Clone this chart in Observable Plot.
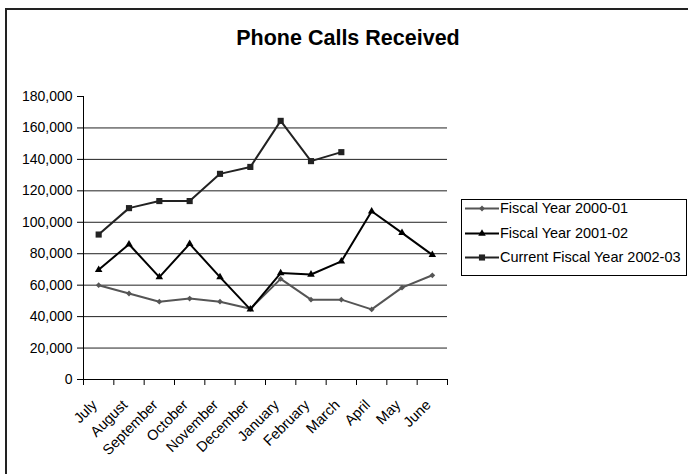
<!DOCTYPE html>
<html>
<head>
<meta charset="utf-8">
<script src="https://cdn.jsdelivr.net/npm/d3@7"></script>
<script src="https://cdn.jsdelivr.net/npm/@observablehq/plot@0.6"></script>
<style>
  html, body { margin: 0; padding: 0; background: #fff; overflow: hidden; }
  body { width: 688px; height: 474px; position: relative; font-family: Arial, "Liberation Sans", sans-serif; }
  #frame { position: absolute; left: 5px; top: 8px; width: 700px; height: 500px; border-left: 2px solid #222; border-top: 2px solid #222; }
  #title { position: absolute; left: 0; width: 696px; top: 26px; text-align: center; font-weight: bold; font-size: 21.5px; color: #000; }
  #chart { position: absolute; left: 0; top: 0; }
  #legend { position: absolute; left: 461px; top: 199px; width: 226px; height: 77px; border: 1px solid #000; background: #fff; box-sizing: border-box; }
  .item { position: absolute; left: 3px; height: 20px; display: flex; align-items: center; font-size: 14.5px; white-space: nowrap; }
  .item svg { margin-right: 1px; }
</style>
</head>
<body>
<div id="frame"></div>
<div id="chart"></div>
<div id="title">Phone Calls Received</div>
<div id="legend"></div>
<script>
const months = ["July","August","September","October","November","December","January","February","March","April","May","June"];
const seriesNames = ["Fiscal Year 2000-01","Fiscal Year 2001-02","Current Fiscal Year 2002-03"];
const fy2000_01 = [60000, 54700, 49500, 51500, 49500, 45000, 64000, 50800, 50800, 44600, 58400, 66300];
const fy2001_02 = [69800, 86000, 65100, 86300, 65100, 44600, 67700, 66800, 75100, 107000, 93300, 79300];
const fy2002_03 = [92200, 109000, 113500, 113500, 130800, 135200, 164500, 138900, 144600];
const yTicks = [0, 20000, 40000, 60000, 80000, 100000, 120000, 140000, 160000, 180000];
const gridTicks = [20000, 40000, 60000, 80000, 100000, 120000, 140000, 160000];

const styles = [
  {stroke: "#555555", symbol: "diamond2", r: 2.6, width: 2},
  {stroke: "#000000", symbol: "triangle2", r: 3.6, width: 2},
  {stroke: "#222222", symbol: "square2", r: 3.9, width: 2}
];
const allSeries = [fy2000_01, fy2001_02, fy2002_03];
const rows = [];
allSeries.forEach((vals, s) => vals.forEach((v, i) => rows.push({series: seriesNames[s], s, i, month: months[i], v})));

const idx = months.map((_, i) => i);
const bounds = d3.range(-0.5, months.length, 1);

const marks = [
  Plot.ruleY(gridTicks, {stroke: "#222", strokeWidth: 1}),
  Plot.ruleY([0], {stroke: "#000", strokeWidth: 1}),
  Plot.ruleX([-0.5], {y1: 0, y2: 180000, stroke: "#000", strokeWidth: 1}),
  Plot.axisY({ticks: yTicks, tickSize: 6, tickPadding: 5, tickFormat: d3.format(","), fontSize: 14, fill: "#000", stroke: "#000", label: null}),
  Plot.axisX({ticks: bounds, tickSize: 6, tickFormat: () => "", stroke: "#000", label: null}),
  Plot.axisX({ticks: idx, tickSize: 0, tickPadding: 23, dx: -4, tickRotate: -45, tickFormat: i => months[i], fontSize: 14.5, fill: "#000", label: null})
];
allSeries.forEach((vals, s) => {
  const data = rows.filter(d => d.s === s);
  marks.push(Plot.line(data, {x: "i", y: "v", stroke: styles[s].stroke, strokeWidth: styles[s].width}));
  marks.push(Plot.dot(data, {x: "i", y: "v", symbol: () => styles[s].symbol, r: styles[s].r, fill: styles[s].stroke, stroke: "none"}));
});

const chart = Plot.plot({
  width: 688,
  height: 474,
  marginLeft: 83,
  marginRight: 241,
  marginTop: 96,
  marginBottom: 95,
  style: {fontFamily: "Arial, 'Liberation Sans', sans-serif", background: "transparent", color: "#000"},
  x: {type: "linear", domain: [-0.5, 11.5], axis: null},
  y: {domain: [0, 180000], axis: null},
  symbol: {type: "identity"},
  marks
});
document.getElementById("chart").appendChild(chart);

// legend
const legend = document.getElementById("legend");
const symbolFor = {diamond2: d3.symbolDiamond2, triangle2: d3.symbolTriangle2, square2: d3.symbolSquare2};
seriesNames.forEach((name, s) => {
  const st = styles[s];
  const item = document.createElement("div");
  item.className = "item";
  item.style.top = (-2 + s * 24.5) + "px";
  const svg = d3.create("svg").attr("width", 34).attr("height", 20);
  svg.append("line").attr("x1", 0).attr("x2", 34).attr("y1", 10.5).attr("y2", 10.5).attr("stroke", st.stroke).attr("stroke-width", st.width);
  svg.append("path").attr("transform", "translate(17,10.5)")
    .attr("d", d3.symbol(symbolFor[st.symbol], Math.PI * st.r * st.r)())
    .attr("fill", st.stroke);
  item.appendChild(svg.node());
  const span = document.createElement("span");
  span.textContent = name;
  item.appendChild(span);
  legend.appendChild(item);
});
</script>
</body>
</html>
